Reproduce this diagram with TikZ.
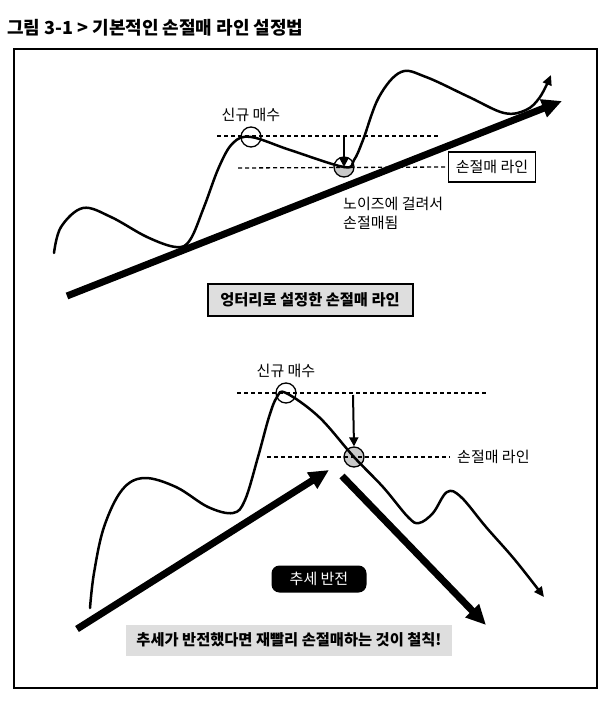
\documentclass[tikz,border=0pt]{standalone}
\usepackage{fontspec}
\setmainfont{Noto Sans CJK KR}
\usetikzlibrary{arrows.meta,positioning,calc}
\definecolor{panelgray}{RGB}{222,222,222}
\definecolor{hitgray}{RGB}{200,200,200}

\tikzset{
  price/.style={line width=2.5pt,line cap=round},
  trendarrow/.style={line width=7pt,-{Triangle[length=20pt,width=18pt]}},
  level/.style={dash pattern=on 4pt off 3pt,line width=1.3pt},
  ring/.style={circle,draw,line width=1.3pt,minimum size=20pt,inner sep=0pt},
  halfring/.style={ring,path picture={\fill[hitgray] (path picture bounding box.west)
    rectangle (path picture bounding box.south east);}},
  lbl/.style={font=\fontsize{15}{18}\selectfont,inner sep=0pt},
  boldlbl/.style={font=\bfseries\fontsize{15.3}{18}\selectfont}
}

\begin{document}
\begin{tikzpicture}[x=1pt,y=-1pt]
\useasboundingbox (0,0) rectangle (600,708);
\node[anchor=west,inner sep=0pt,font=\bfseries\fontsize{18}{21}\selectfont] (title) at (7,28)
  {그림 3-1 > 기본적인 손절매 라인 설정법};
\draw[line width=1.2pt] (14,49) rectangle (597,688);

% upper panel: rising trend, stop hit by noise
\coordinate (up0) at (67,296);
\coordinate (up1) at (562,101);
\node[ring] (buy1) at (251,137) {};
\node[halfring] (stop1) at (344,167) {};
\node[lbl,draw,line width=1.1pt,fill=white,minimum width=87pt,minimum height=30pt] (slbox) at (492,167) {손절매 라인};
\coordinate (hi1a) at (217,136); \coordinate (hi1b) at (440,136);
\coordinate (lo1a) at (238,168);
\draw[level] (hi1a) -- (hi1b);
\draw[level] (lo1a) -- (slbox.west);
\node[lbl,above=4pt of buy1] (buylbl1) {신규 매수};
\node[lbl,anchor=north west,align=left] (noise) at (343,197) {노이즈에 걸려서\\[1pt]손절매됨};
\draw[price,-{Triangle[length=10pt,width=9pt]}] plot[smooth,tension=0.6] coordinates {
  (54,253) (61,227) (83,208) (111,217) (147,237) (176,247) (190,240) (204,207)
  (219,167) (233,143) (251,137) (290,150) (344,167) (354,160) (363,140) (379,97)
  (401,72) (426,77) (469,97) (504,113) (526,110) (540,97) (551,75)};
\draw[trendarrow] (up0) -- (up1);
\draw[line width=2pt,-{Triangle[length=9pt,width=9pt]}] (hi1b -| stop1) -- (stop1.center);
\node[draw,line width=2pt,fill=panelgray,boldlbl,minimum width=205pt,minimum height=32pt] (wrong) at (310,300) {엉터리로 설정한 손절매 라인};

% lower panel: trend reversal
\coordinate (dn0) at (77,629);
\coordinate (dn1) at (329,470);
\coordinate (dn2) at (342,476);
\coordinate (dn3) at (486,625);
\node[ring] (buy2) at (286,393) {};
\node[ring,fill=hitgray] (stop2) at (354,457) {};
\coordinate (hi2a) at (237,393); \coordinate (hi2b) at (488,393);
\coordinate (lo2a) at (267,457); \coordinate (lo2b) at (450,457);
\draw[level] (hi2a) -- (hi2b);
\draw[level] (lo2a) -- (lo2b);
\node[lbl,above=4pt of buy2] (buylbl2) {신규 매수};
\node[lbl,anchor=west] (sllbl) at (457,457) {손절매 라인};
\draw[price,-{Triangle[length=10pt,width=9pt]}] plot[smooth,tension=0.6] coordinates {
  (90,608) (94,573) (104,527) (122,490) (144,478) (176,487) (208,507) (233,513)
  (245,500) (258,457) (269,417) (277,397) (286,393) (319,417) (354,457) (383,487)
  (408,517) (419,523) (433,513) (447,492) (461,497) (486,527) (515,560) (544,597)};
\draw[trendarrow] (dn0) -- (dn1);
\draw[trendarrow] (dn2) -- (dn3);
\draw[line width=2pt,-{Triangle[length=9pt,width=9pt]}] (353,395) -- (stop2.north);
\node[fill=black,text=white,rounded corners=8pt,lbl,minimum width=95pt,minimum height=27pt] (turn) at (319,579) {추세 반전};
\node[fill=panelgray,boldlbl,minimum width=326pt,minimum height=31pt] (rule) at (289,640) {추세가 반전했다면 재빨리 손절매하는 것이 철칙!};
\end{tikzpicture}
\end{document}
